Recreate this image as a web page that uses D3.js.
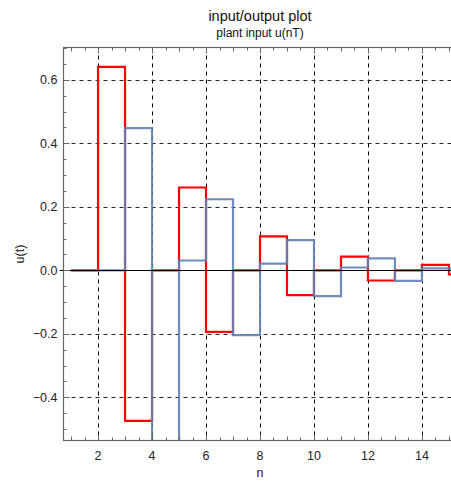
<!DOCTYPE html>
<html>
<head>
<meta charset="utf-8">
<script src="https://cdn.jsdelivr.net/npm/d3@7"></script>
<style>
  html, body { margin: 0; padding: 0; background: #fff; }
  svg { display: block; font-family: "Liberation Sans", Arial, sans-serif; }
</style>
</head>
<body>
<svg id="chart" width="451" height="483"></svg>
<script>
// Sample index n for each held value
const samples = d3.range(1, 16);
// Red series: u(nT) values held over [n, n+1)
const redValues = [0, 0.641, -0.474, 0, 0.261, -0.194, 0, 0.107, -0.078, 0, 0.043, -0.032, 0, 0.017, -0.013];
// Blue series
const blueValues = [0, 0, 0.448, -0.62, 0.031, 0.224, -0.204, 0.021, 0.095, -0.081, 0.009, 0.038, -0.033, 0.006, 0.006];

const xTicks = [2, 4, 6, 8, 10, 12, 14];
const yTicks = [-0.4, -0.2, 0.0, 0.2, 0.4, 0.6];

const titleText = "input/output plot";
const subtitleText = "plant input u(nT)";
const xLabel = "n";
const yLabel = "u(t)";

const svg = d3.select("#chart");
const pLeft = 63.5, pRight = 456.5, pTop = 47.5, pBottom = 440.5;

const x = d3.scaleLinear().domain([0.72, 15.28]).range([pLeft, pRight]);
const y = d3.scaleLinear().domain([-0.536, 0.702]).range([pBottom, pTop]);

svg.append("defs").append("clipPath").attr("id", "plotclip")
  .append("rect").attr("x", pLeft).attr("y", pTop)
  .attr("width", pRight - pLeft).attr("height", pBottom - pTop);

// Dashed grid
const grid = svg.append("g");
grid.selectAll("line.vx").data(xTicks).join("line")
  .attr("x1", d => Math.round(x(d)) + 0.5).attr("x2", d => Math.round(x(d)) + 0.5)
  .attr("y1", pTop).attr("y2", pBottom)
  .attr("stroke", "#000").attr("stroke-width", 1).attr("stroke-dasharray", "4,4");
grid.selectAll("line.hy").data(yTicks.filter(d => d !== 0)).join("line")
  .attr("y1", d => Math.round(y(d)) + 0.5).attr("y2", d => Math.round(y(d)) + 0.5)
  .attr("x1", pLeft).attr("x2", pRight)
  .attr("stroke", "#222").attr("stroke-width", 1).attr("stroke-dasharray", "4,4");

// Step traces
const step = d3.line()
  .x(d => x(d[0])).y(d => y(d[1]))
  .curve(d3.curveStepAfter);

function stepPoints(vals) {
  const pts = samples.map((n, i) => [n, vals[i]]);
  pts.push([samples[samples.length - 1] + 1, vals[vals.length - 1]]);
  return pts;
}

const plot = svg.append("g").attr("clip-path", "url(#plotclip)");
plot.append("path").datum(stepPoints(redValues))
  .attr("d", step).attr("fill", "none")
  .attr("stroke", "#ff0000").attr("stroke-width", 2.2).attr("stroke-linejoin", "miter");
plot.append("path").datum(stepPoints(blueValues))
  .attr("d", step).attr("fill", "none")
  .attr("stroke", "#5e81b5").attr("stroke-opacity", 0.9)
  .attr("stroke-width", 2.2).attr("stroke-linejoin", "miter");

// Zero axis line
svg.append("line")
  .attr("x1", pLeft - 4).attr("x2", pRight)
  .attr("y1", Math.round(y(0)) + 0.5).attr("y2", Math.round(y(0)) + 0.5)
  .attr("stroke", "#000").attr("stroke-width", 1);

// Frame with inward ticks
const frameColor = "#666";
svg.append("rect").attr("x", pLeft).attr("y", pTop)
  .attr("width", pRight - pLeft).attr("height", pBottom - pTop)
  .attr("fill", "none").attr("stroke", frameColor).attr("stroke-width", 1.2);

const xMinor = d3.range(1, 15.3, 0.5);
const yMinor = d3.range(-0.5, 0.701, 0.05).map(v => Math.round(v * 100) / 100);

const tickG = svg.append("g").attr("stroke", frameColor).attr("stroke-width", 1);
xMinor.forEach(v => {
  const len = Number.isInteger(v) && v % 2 === 0 ? 6 : (Number.isInteger(v) ? 4 : 3);
  const px = Math.round(x(v)) + 0.5;
  tickG.append("line").attr("x1", px).attr("x2", px).attr("y1", pBottom).attr("y2", pBottom - len);
  tickG.append("line").attr("x1", px).attr("x2", px).attr("y1", pTop).attr("y2", pTop + len);
});
yMinor.forEach(v => {
  const major = Math.abs(Math.round(v * 10) - v * 10) < 1e-6 && Math.round(v * 10) % 2 === 0;
  const len = major ? 6 : 3;
  const py = Math.round(y(v)) + 0.5;
  tickG.append("line").attr("x1", pLeft).attr("x2", pLeft + len).attr("y1", py).attr("y2", py);
});

// Tick labels
const fmt = d => (d < 0 ? "\u2212" : "") + Math.abs(d).toFixed(1);
svg.append("g").selectAll("text").data(yTicks).join("text")
  .attr("x", pLeft - 6).attr("y", d => y(d) + 4.5)
  .attr("text-anchor", "end").attr("font-size", 12.5).attr("fill", "#222")
  .text(fmt);
svg.append("g").selectAll("text").data(xTicks).join("text")
  .attr("x", d => x(d)).attr("y", pBottom + 19)
  .attr("text-anchor", "middle").attr("font-size", 12.5).attr("fill", "#222")
  .text(d => d);

// Axis labels and titles
const cx = (pLeft + pRight) / 2;
svg.append("text").attr("x", cx).attr("y", 477)
  .attr("text-anchor", "middle").attr("font-size", 12.5).attr("fill", "#222").text(xLabel);
svg.append("text").attr("transform", `translate(24,${(pTop + pBottom) / 2 + 10}) rotate(-90)`)
  .attr("text-anchor", "middle").attr("font-size", 12.5).attr("fill", "#222").text(yLabel);
svg.append("text").attr("x", cx).attr("y", 21)
  .attr("text-anchor", "middle").attr("font-size", 14.5).attr("fill", "#111").text(titleText);
svg.append("text").attr("x", cx).attr("y", 37)
  .attr("text-anchor", "middle").attr("font-size", 12).attr("fill", "#111").text(subtitleText);
</script>
</body>
</html>
